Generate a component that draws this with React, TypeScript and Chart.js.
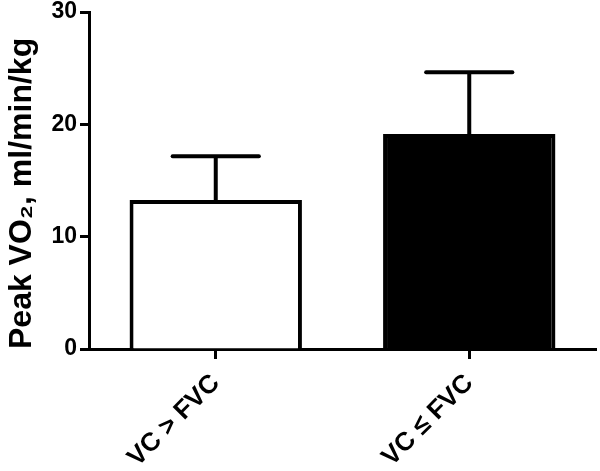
import React, { useEffect, useRef } from "react";
import { Chart, registerables } from "chart.js";

Chart.register(...registerables);

const categories = ["VC > FVC", "VC \u2264 FVC"];
const means = [13.26, 19.13];
const errors = [3.9, 5.5];
const barFills = ["#ffffff", "#000000"];
const yTicks = [0, 10, 20, 30];

const errorBarPlugin = {
  id: "errorBars",
  afterDatasetsDraw(chart: any) {
    const meta = chart.getDatasetMeta(0);
    const yScale = chart.scales.y;
    const ctx = chart.ctx;
    ctx.save();
    ctx.strokeStyle = "#000";
    meta.data.forEach((bar: any, i: number) => {
      const x = bar.x;
      const yBase = yScale.getPixelForValue(means[i]);
      const yTop = yScale.getPixelForValue(means[i] + errors[i]);
      const half = bar.width * 0.25;
      ctx.lineWidth = 4;
      ctx.lineCap = "butt";
      ctx.beginPath();
      ctx.moveTo(x, yBase);
      ctx.lineTo(x, yTop);
      ctx.stroke();
      ctx.lineCap = "round";
      ctx.beginPath();
      ctx.moveTo(x - half, yTop);
      ctx.lineTo(x + half, yTop);
      ctx.stroke();
    });
    ctx.restore();
  },
};

export default function App() {
  const ref = useRef<HTMLCanvasElement>(null);
  useEffect(() => {
    document.body.style.margin = "0";
    const chart = new Chart(ref.current as HTMLCanvasElement, {
      type: "bar",
      data: {
        labels: categories,
        datasets: [
          {
            data: means,
            backgroundColor: barFills,
            borderColor: "#000",
            borderWidth: 4,
            barPercentage: 0.68,
            categoryPercentage: 1,
          },
        ],
      },
      options: {
        animation: false,
        responsive: false,
        maintainAspectRatio: false,
        layout: { padding: { top: 12, right: 4, left: 0, bottom: 0 } },
        plugins: { legend: { display: false }, tooltip: { enabled: false } },
        scales: {
          x: {
            offset: true,
            border: { display: true, color: "#000", width: 3 },
            grid: {
              display: true,
              drawOnChartArea: false,
              drawTicks: true,
              tickLength: 10,
              tickWidth: 3,
              tickColor: "#000",
              offset: false,
            },
            ticks: {
              color: "#000",
              font: { family: "Liberation Sans, Arial, sans-serif", size: 26, weight: "bold" },
              minRotation: 45,
              maxRotation: 45,
              padding: 9,
            },
            afterFit(scale: any) {
              scale.height = 122;
            },
          },
          y: {
            min: 0,
            max: 30,
            afterBuildTicks(scale: any) {
              scale.ticks = yTicks.map((v) => ({ value: v }));
            },
            border: { display: true, color: "#000", width: 3 },
            grid: {
              display: true,
              drawOnChartArea: false,
              drawTicks: true,
              tickLength: 9,
              tickWidth: 3,
              tickColor: "#000",
            },
            ticks: {
              color: "#000",
              font: { family: "Liberation Sans, Arial, sans-serif", size: 23, weight: "bold", lineHeight: 0.75 },
              padding: 3,
            },
            title: {
              display: true,
              text: "Peak VO\u2082, ml/min/kg",
              color: "#000",
              align: "start",
              font: { family: "Liberation Sans, Arial, sans-serif", size: 32, weight: "bold" },
              padding: { top: 3, bottom: 4 },
            },
            afterFit(scale: any) {
              scale.width = 89;
            },
          },
        },
      },
      plugins: [errorBarPlugin],
    });
    return () => chart.destroy();
  }, []);
  return (
    <div style={{ width: 600, height: 471 }}>
      <canvas ref={ref} width={600} height={471} style={{ display: "block" }} />
    </div>
  );
}
